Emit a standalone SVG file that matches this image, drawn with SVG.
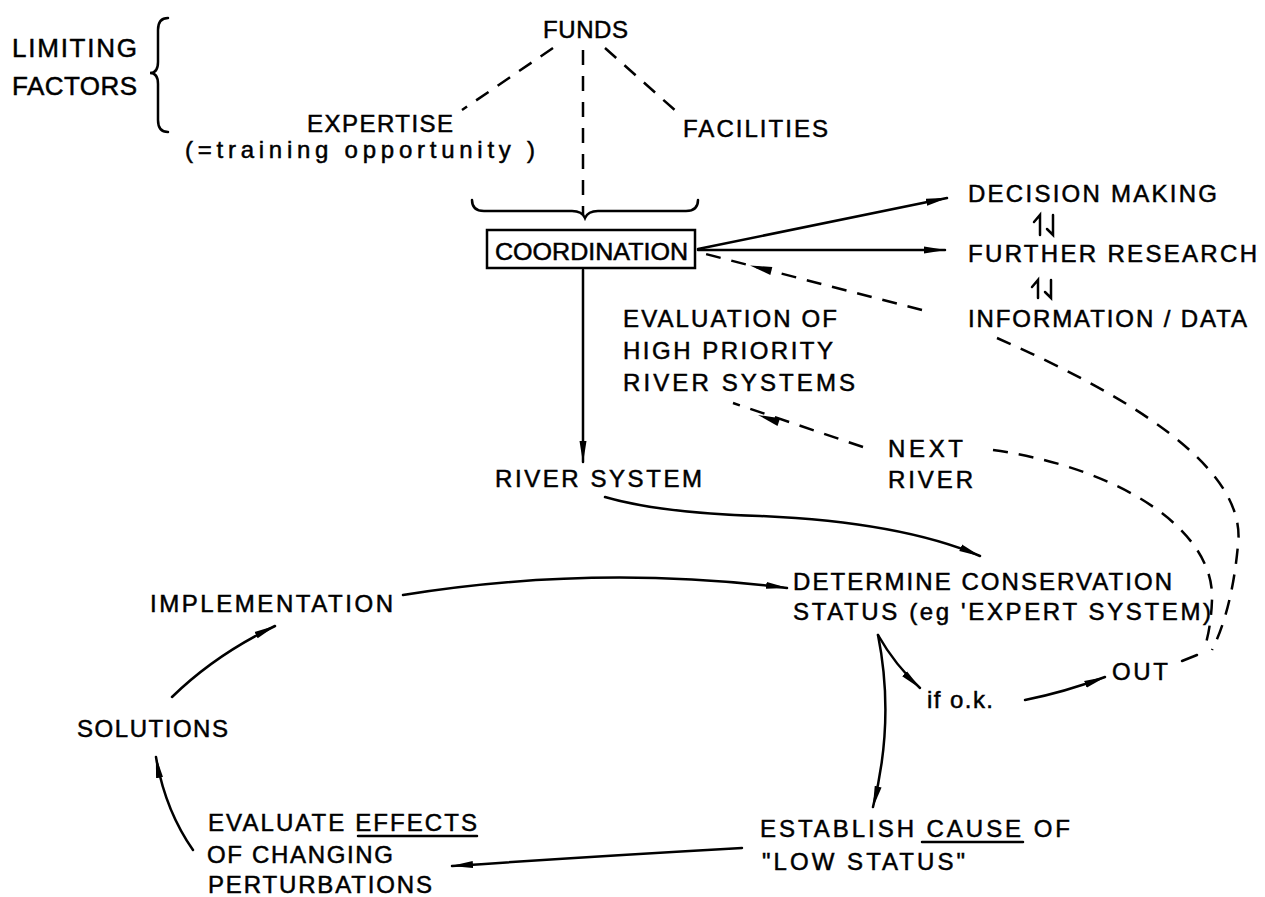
<svg xmlns="http://www.w3.org/2000/svg" width="1265" height="897" viewBox="0 0 1265 897">
<style>
text{font-family:"Liberation Sans",Arial,sans-serif;font-size:24px;fill:#000;stroke:#000;stroke-width:0.5}
.big{font-size:26px}
.ln{fill:none;stroke:#000;stroke-width:2.5;stroke-linecap:round}
.ds{fill:none;stroke:#000;stroke-width:2.5;stroke-dasharray:15 11}
.ar{marker-end:url(#ah)}
.hd{fill:#000;stroke:none}
</style>
<defs>
<marker id="ah" viewBox="0 0 22 8" refX="21" refY="4" markerWidth="22" markerHeight="8" markerUnits="userSpaceOnUse" orient="auto">
<path d="M0,0.5 L22,4 L0,7.5 Z" fill="#000"/>
</marker>
</defs>
<rect width="1265" height="897" fill="#fff"/>

<g id="limiting-factors">
<text class="big" x="12" y="57" textLength="125" lengthAdjust="spacing">LIMITING</text>
<text class="big" x="12" y="95" textLength="125" lengthAdjust="spacing">FACTORS</text>
<path class="ln" d="M168,18 Q158,18 158,30 L158,62 Q158,73 150,73 Q158,73 158,84 L158,120 Q158,132 168,132"/>
</g>
<g id="funds"><text x="543" y="38" textLength="85" lengthAdjust="spacing">FUNDS</text></g>
<g id="expertise">
<text x="307" y="132" textLength="146" lengthAdjust="spacing">EXPERTISE</text>
<text x="185" y="158" font-size="22" textLength="350" lengthAdjust="spacing">(=training opportunity )</text>
</g>
<g id="facilities"><text x="683" y="137" textLength="145" lengthAdjust="spacing">FACILITIES</text></g>
<g id="coordination">
<path class="ln" d="M472,200 Q472,211 484,211 L572,211 Q582,211 585,218 Q588,211 598,211 L686,211 Q698,211 698,200"/>
<rect x="487" y="230" width="208" height="38" fill="none" stroke="#000" stroke-width="2.5"/>
<text x="495" y="260" textLength="193" lengthAdjust="spacingAndGlyphs">COORDINATION</text>
</g>
<g id="decision-making"><text x="968" y="202" textLength="249" lengthAdjust="spacing">DECISION MAKING</text></g>
<g id="further-research"><text x="968" y="262" textLength="289" lengthAdjust="spacing">FURTHER RESEARCH</text></g>
<g id="information-data"><text x="968" y="327" textLength="279" lengthAdjust="spacing">INFORMATION / DATA</text></g>
<g id="evaluation-high-priority">
<text x="623" y="327" textLength="214" lengthAdjust="spacing">EVALUATION OF</text>
<text x="623" y="359" textLength="210" lengthAdjust="spacing">HIGH PRIORITY</text>
<text x="623" y="391" textLength="232" lengthAdjust="spacing">RIVER SYSTEMS</text>
</g>
<g id="next-river">
<text x="888" y="457" textLength="75" lengthAdjust="spacing">NEXT</text>
<text x="888" y="488" textLength="85" lengthAdjust="spacing">RIVER</text>
</g>
<g id="river-system"><text x="495" y="487" textLength="207" lengthAdjust="spacing">RIVER SYSTEM</text></g>
<g id="determine-status">
<text x="793" y="590" textLength="379" lengthAdjust="spacing">DETERMINE CONSERVATION</text>
<text x="793" y="620" textLength="418" lengthAdjust="spacing">STATUS (eg 'EXPERT SYSTEM)</text>
</g>
<g id="implementation"><text x="150" y="612" textLength="243" lengthAdjust="spacing">IMPLEMENTATION</text></g>
<g id="solutions"><text x="77" y="737" textLength="151" lengthAdjust="spacing">SOLUTIONS</text></g>
<g id="if-ok"><text x="927" y="708" textLength="66" lengthAdjust="spacing">if o.k.</text></g>
<g id="out"><text x="1112" y="680" textLength="56" lengthAdjust="spacing">OUT</text></g>
<g id="evaluate-effects">
<text x="208" y="831" textLength="269" lengthAdjust="spacing">EVALUATE EFFECTS</text>
<path class="ln" d="M358,836 L477,836"/>
<text x="207" y="863" textLength="186" lengthAdjust="spacing">OF CHANGING</text>
<text x="208" y="893" textLength="224" lengthAdjust="spacing">PERTURBATIONS</text>
</g>
<g id="establish-cause">
<text x="760" y="837" textLength="310" lengthAdjust="spacing">ESTABLISH CAUSE OF</text>
<path class="ln" d="M922,842 L1023,842"/>
<text x="762" y="870" textLength="203" lengthAdjust="spacing">"LOW STATUS"</text>
</g>

<g id="connectors">
<path class="ds" d="M553,48 L462,110"/>
<path class="ds" d="M583,50 L583,215"/>
<path class="ds" d="M605,48 L677,112"/>
<path class="ln ar" d="M583,270 L583,462"/>
<path class="ln ar" d="M698,249 L947,198"/>
<path class="ln ar" d="M698,250 L945,250"/>
<path class="ds" d="M922,310 L698,252"/>
<path class="hd" d="M750,265.5 L772.3,267.1 L770.3,274.9 Z"/>
<path class="ds" d="M863,447 L733,403"/>
<path class="hd" d="M758,415 L780.1,418.3 L777.5,425.9 Z"/>
<path class="ds" d="M993,450 C1120,468 1215,530 1212,600 Q1211,628 1204,650"/>
<path class="ds" d="M997,338 C1120,392 1248,465 1238,545 Q1232,610 1212,650"/>
<path class="ln" d="M1197,655 L1182,661"/>
<path class="ln ar" d="M605,497 Q660,513 760,516 Q900,522 980,556"/>
<path class="ln ar" d="M403,595 Q595,564 787,588"/>
<path class="ln ar" d="M172,697 Q215,655 275,626"/>
<path class="ln ar" d="M193,850 Q165,810 156,757"/>
<path class="ln ar" d="M742,848 Q600,856 452,866"/>
<path class="ln ar" d="M878,635 Q895,720 873,807"/>
<path class="ln ar" d="M878,635 Q895,665 920,688"/>
<path class="ln ar" d="M1025,700 Q1065,692 1105,677"/>
<path class="ln" d="M1040,235 L1040,215 L1034,222"/>
<path class="ln" d="M1053,215 L1053,235 L1047,229"/>
<path class="ln" d="M1038,298 L1038,280 L1032,287"/>
<path class="ln" d="M1051,280 L1051,298 L1045,292"/>
</g>
</svg>
